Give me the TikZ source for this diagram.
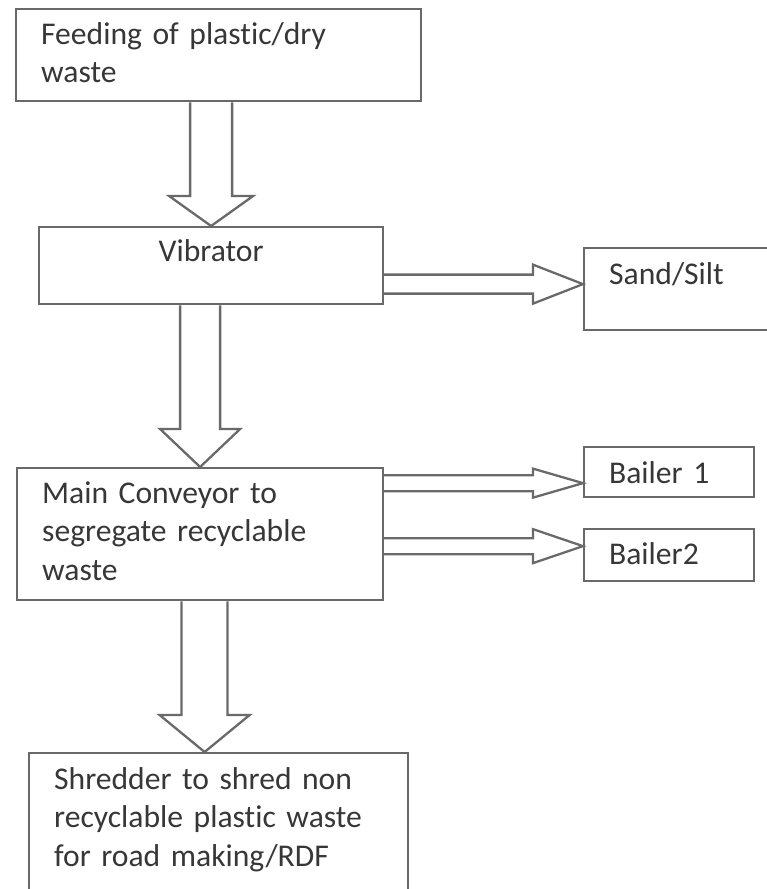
\documentclass[tikz,border=0pt]{standalone}
\usepackage{fontspec}
\setmainfont{Carlito}[RawFeature={-liga;-dlig}]
\usepackage{tikz}
\usetikzlibrary{calc, positioning}
\definecolor{boxline}{RGB}{105,105,105}
\definecolor{boxtext}{RGB}{55,55,55}

% hollow block arrows: #1 source node, #2 tip, #3 shaft half, #4 head half, #5 head length
\newcommand{\flowdown}[5]{%
  \draw[flow] ($(#1.south -| #2)+(-#3,0)$) -- ($(#2)+(-#3,-#5)$) -- ($(#2)+(-#4,-#5)$)
    -- (#2) -- ($(#2)+(#4,-#5)$) -- ($(#2)+(#3,-#5)$) -- ($(#1.south -| #2)+(#3,0)$);}
\newcommand{\flowright}[5]{%
  \draw[flow] ($(#1.east |- #2)+(0,-#3)$) -- ($(#2)+(-#5,-#3)$) -- ($(#2)+(-#5,-#4)$)
    -- (#2) -- ($(#2)+(-#5,#4)$) -- ($(#2)+(-#5,#3)$) -- ($(#1.east |- #2)+(0,#3)$);}

\begin{document}
\begin{tikzpicture}[
    x=0.02cm, y=-0.02cm,
    box/.style={rectangle, draw=boxline, line width=1.3pt, anchor=north west,
                align=left, inner xsep=0.5cm, inner ysep=0pt, text=boxtext,
                font=\fontsize{18}{22}\selectfont},
    flow/.style={draw=boxline, line width=1.3pt, line join=miter},
]
\useasboundingbox (0,0) rectangle (767,889);
\clip (0,0) rectangle (767,889);

\node[box, text width=7.1cm, text height=0.70cm, text depth=1.14cm] (feed) at (15,8)
    {Feeding of plastic/dry\\waste};
\node[box, align=center, text width=5.88cm, text height=0.68cm, text depth=0.86cm] (vib) at (38,226)
    {Vibrator};
\node[box, text width=6.32cm, text height=0.70cm, text depth=1.94cm] (main) at (16,467)
    {Main Conveyor to\\segregate recyclable\\waste};
\node[box, text width=6.58cm, text height=0.72cm, text depth=2.24cm] (shred) at (28,752)
    {Shredder to shred non\\recyclable plastic waste\\for road making/RDF};

\node[box, text width=3.14cm, text height=0.72cm, text depth=0.92cm] (sand) at (583,247)
    {Sand/Silt};
\node[box, text width=2.4cm, text height=0.72cm, text depth=0.28cm] (bail1) at (583,446)
    {Bailer 1};
\node[box, text width=2.4cm, text height=0.70cm, text depth=0.34cm] (bail2) at (583,528)
    {Bailer2};

\coordinate (shredin) at ($(shred.north)+(-14,0)$);
\coordinate (sandin) at ($(sand.west)+(0,-5)$);
\coordinate (bail1in) at ($(bail1.west)+(0,11)$);
\coordinate (bail2in) at ($(bail2.west)+(0,-9)$);

\flowdown{feed}{vib.north}{21}{42}{30}
\flowdown{vib}{main.north}{20}{40}{38}
\flowdown{main}{shredin}{23}{45}{37}

\flowright{vib}{sandin}{9.5}{19.5}{50}
\flowright{main}{bail1in}{8}{14.5}{50}
\flowright{main}{bail2in}{8}{17}{50}
\end{tikzpicture}
\end{document}
